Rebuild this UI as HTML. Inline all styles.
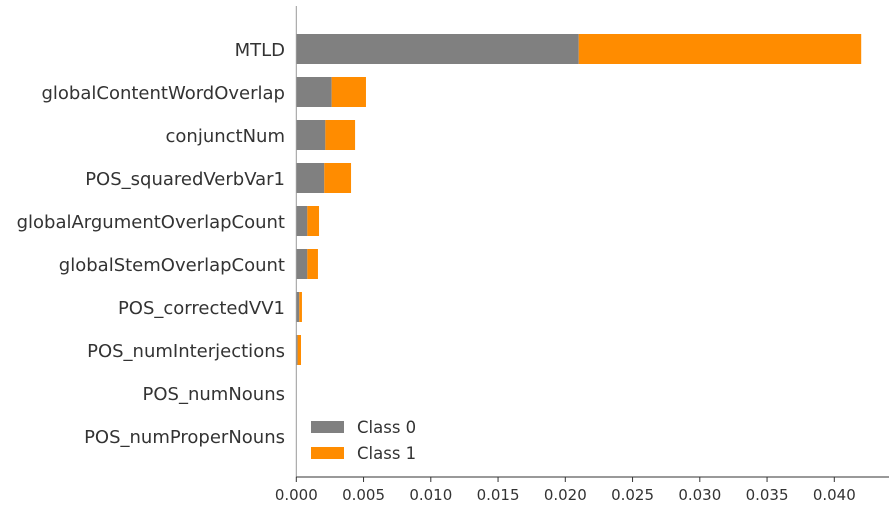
<!DOCTYPE html>
<html><head><meta charset="utf-8"><style>
html,body{margin:0;padding:0;background:#fff}
svg{display:block}
text{font-family:"DejaVu Sans","Liberation Sans",sans-serif;fill:#333}
</style></head><body>
<svg id="chart" width="896" height="506" viewBox="0 0 896 506" xmlns="http://www.w3.org/2000/svg">
<g id="bars"></g>
<g id="yaxis"></g>
<g id="xaxis"></g>
<g id="legend">
<rect x="311" y="421" width="33" height="12" fill="#808080"/>
<text x="357" y="433" font-size="16.5">Class 0</text>
<rect x="311" y="447" width="33" height="12" fill="#ff8c00"/>
<text x="357" y="459" font-size="16.5">Class 1</text>
</g>
</svg>
<script>
const features = ["MTLD","globalContentWordOverlap","conjunctNum","POS_squaredVerbVar1","globalArgumentOverlapCount","globalStemOverlapCount","POS_correctedVV1","POS_numInterjections","POS_numNouns","POS_numProperNouns"];
const class0 = [0.0210,0.00263,0.00216,0.00208,0.00082,0.00082,0.00022,0.00010,0,0];
const class1 = [0.0210,0.00255,0.00221,0.00199,0.00087,0.00079,0.00020,0.00025,0,0];
const xTicks = [0,0.005,0.01,0.015,0.02,0.025,0.03,0.035,0.04];
const xTickLabels = ["0.000","0.005","0.010","0.015","0.020","0.025","0.030","0.035","0.040"];

const NS="http://www.w3.org/2000/svg";
const x0=296.3, xScale=13450;
const X=v=>x0+v*xScale;
const Y=i=>49+i*43;
const bh=30;
function mk(tag,attrs,parent){const e=document.createElementNS(NS,tag);for(const k in attrs)e.setAttribute(k,attrs[k]);parent.appendChild(e);return e;}
const gb=document.getElementById('bars'),gy=document.getElementById('yaxis'),gx=document.getElementById('xaxis');
features.forEach((f,i)=>{
  const r0=mk('rect',{x:X(0),y:Y(i)-bh/2,width:Math.max(0,X(class0[i])-X(0)),height:bh,fill:'#808080'},gb);
  
  
  const r1=mk('rect',{x:X(class0[i]),y:Y(i)-bh/2,width:Math.max(0,X(class0[i]+class1[i])-X(class0[i])),height:bh,fill:'#ff8c00'},gb);
  
  
  const t=mk('text',{x:285,y:Y(i)+7,'text-anchor':'end','font-size':'18'},gy);
  t.textContent=f;
  
  
});
const yl=mk('line',{x1:x0,x2:x0,y1:6,y2:477,stroke:'#999','stroke-width':1},gy);


const xl=mk('line',{x1:x0,x2:889,y1:477,y2:477,stroke:'#333','stroke-width':1},gx);


xTicks.forEach((v,i)=>{
  const tk=mk('line',{x1:X(v),x2:X(v),y1:477,y2:482,stroke:'#333','stroke-width':1},gx);
  
  
  const t=mk('text',{x:X(v),y:500,'text-anchor':'middle','font-size':'15'},gx);
  t.textContent=xTickLabels[i];
  
  
});
</script>
</body></html>
